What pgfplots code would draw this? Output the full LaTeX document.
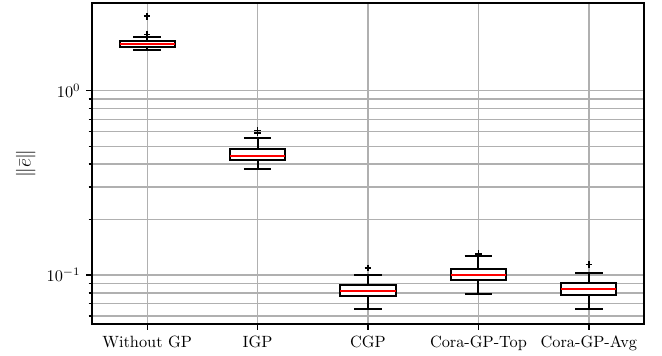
\documentclass[border=0pt]{standalone}
\usepackage{pgfplots}
\pgfplotsset{compat=1.18}
\usepgfplotslibrary{statistics}
\definecolor{gridgray}{HTML}{B0B0B0}
\begin{document}
\begin{tikzpicture}
\begin{axis}[
  scale only axis, width=338.7pt, height=197pt,
  ymode=log, ymin=0.0543, ymax=2.99,
  xmin=0.5, xmax=5.5,
  xtick={1,2,3,4,5},
  xticklabels={Without GP,IGP,CGP,Cora-GP-Top,Cora-GP-Avg},
  grid=both,
  major grid style={color=gridgray, line width=0.8pt},
  minor grid style={color=gridgray, line width=0.8pt},
  tick align=outside, tick pos=left,
  major tick length=3.5pt, minor tick length=2pt,
  every tick/.style={black, line width=0.8pt},
  axis line style={line width=0.8pt},
  ylabel={$\|\bar{e}\|$},
  ylabel style={font=\large},
  boxplot/draw direction=y,
  boxplot/every median/.style={red, line width=1.2pt},
  boxplot/box extend=0.5,
  boxplot/whisker extend=0.25,
]
\addplot[boxplot prepared={draw position=1, lower whisker=1.67, lower quartile=1.734, median=1.794, upper quartile=1.853, upper whisker=1.95},
  black, line width=1.2pt, fill=white, solid, mark=+, mark size=2pt, mark options={black, line width=1pt}]
  coordinates {(0,2.53) (0,2.02)};
\addplot[boxplot prepared={draw position=2, lower whisker=0.377, lower quartile=0.422, median=0.443, upper quartile=0.482, upper whisker=0.553},
  black, line width=1.2pt, fill=white, solid, mark=+, mark size=2pt, mark options={black, line width=1pt}]
  coordinates {(0,0.608) (0,0.591)};
\addplot[boxplot prepared={draw position=3, lower whisker=0.0659, lower quartile=0.0769, median=0.0818, upper quartile=0.0882, upper whisker=0.100},
  black, line width=1.2pt, fill=white, solid, mark=+, mark size=2pt, mark options={black, line width=1pt}]
  coordinates {(0,0.1092)};
\addplot[boxplot prepared={draw position=4, lower whisker=0.0792, lower quartile=0.094, median=0.1005, upper quartile=0.1074, upper whisker=0.1264},
  black, line width=1.2pt, fill=white, solid, mark=+, mark size=2pt, mark options={black, line width=1pt}]
  coordinates {(0,0.1307)};
\addplot[boxplot prepared={draw position=5, lower whisker=0.0654, lower quartile=0.0779, median=0.0839, upper quartile=0.0909, upper whisker=0.1025},
  black, line width=1.2pt, fill=white, solid, mark=+, mark size=2pt, mark options={black, line width=1pt}]
  coordinates {(0,0.1143)};
\end{axis}
\path ([xshift=-56.4pt,yshift=-19pt]current axis.south west) rectangle ([xshift=11pt,yshift=1.8pt]current axis.north east);
\end{tikzpicture}
\end{document}
